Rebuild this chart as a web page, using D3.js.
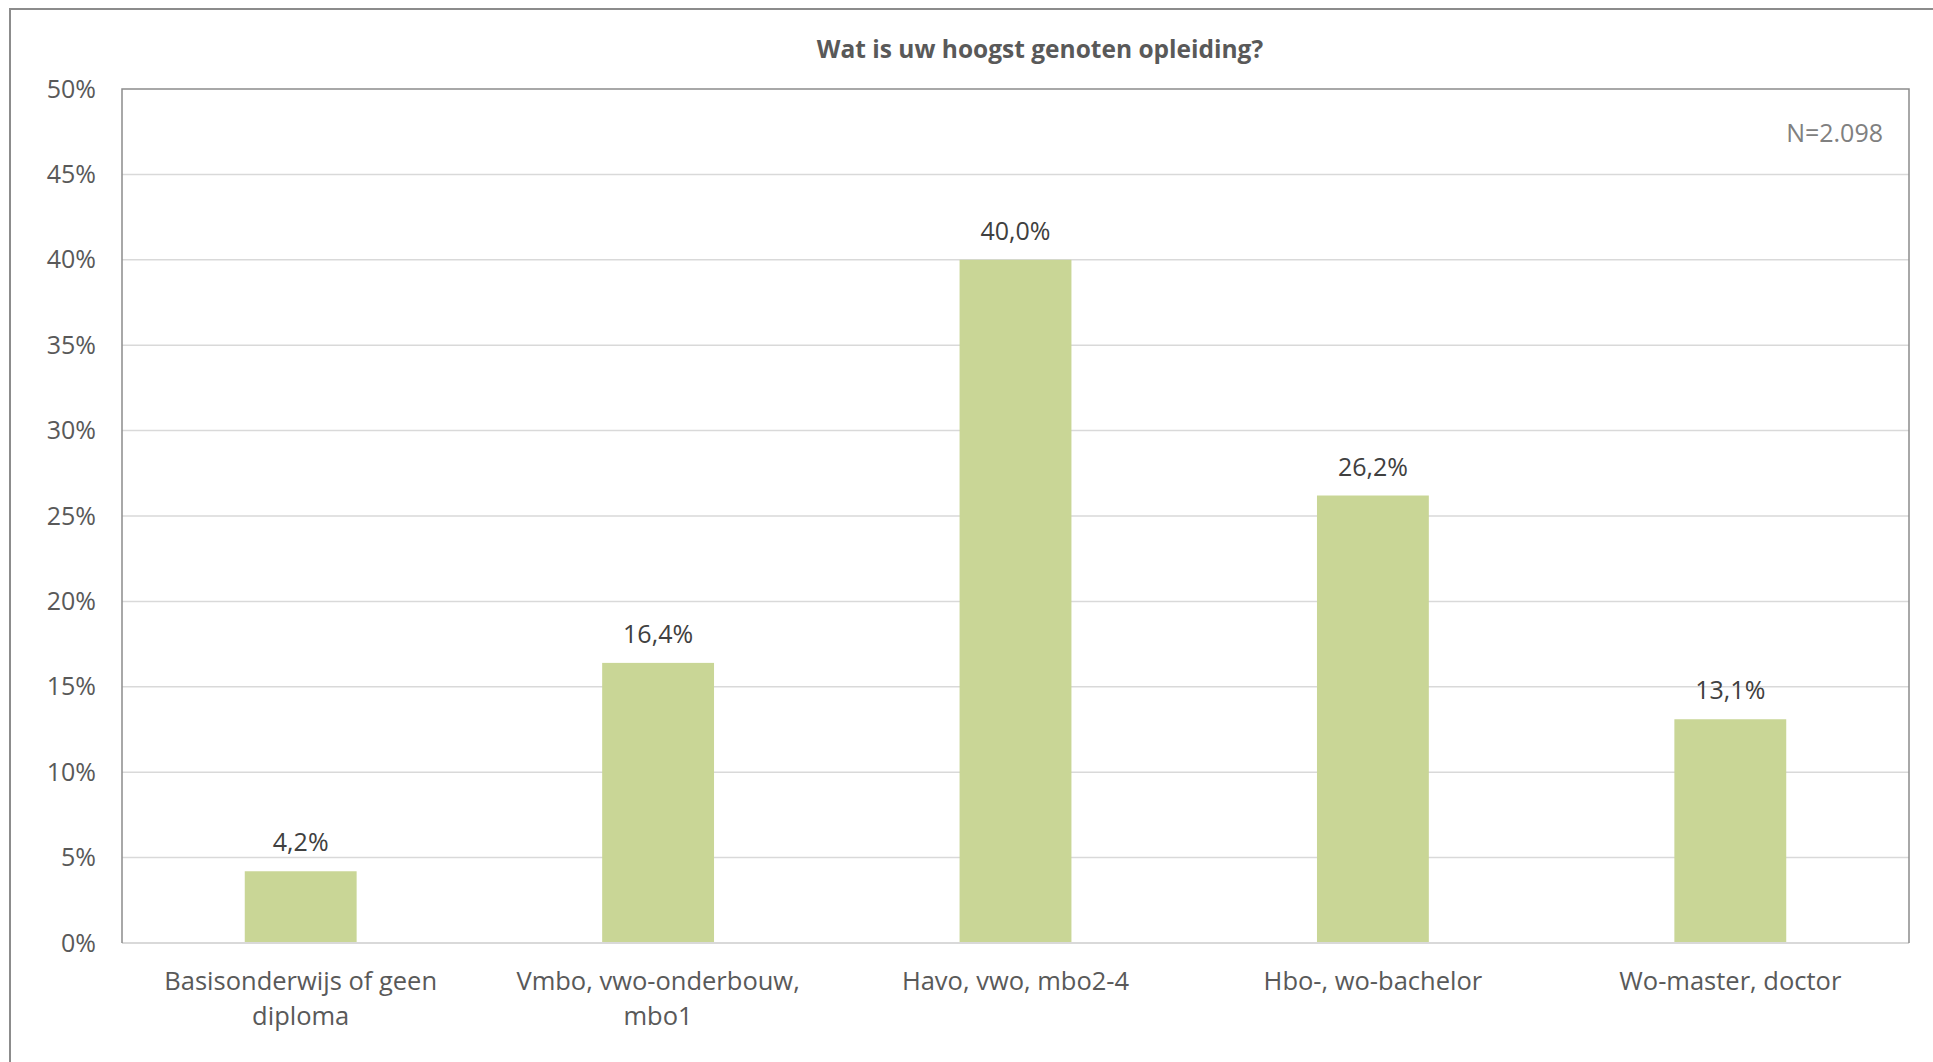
<!DOCTYPE html>
<html>
<head>
<meta charset="utf-8">
<script src="https://cdn.jsdelivr.net/npm/d3@7"></script>
<style>
  html, body { margin: 0; padding: 0; background: #fff; }
  svg { display: block; }
  text { font-family: "Open Sans", "Noto Sans", sans-serif; }
</style>
</head>
<body>
<svg id="chart" width="1933" height="1062"></svg>
<script>
const categories = [
  ["Basisonderwijs of geen", "diploma"],
  ["Vmbo, vwo-onderbouw,", "mbo1"],
  ["Havo, vwo, mbo2-4"],
  ["Hbo-, wo-bachelor"],
  ["Wo-master, doctor"]
];
const values = [4.2, 16.4, 40.0, 26.2, 13.1];
const yTicks = [0, 5, 10, 15, 20, 25, 30, 35, 40, 45, 50];
const title = "Wat is uw hoogst genoten opleiding?";
const note = "N=2.098";

const svg = d3.select("#chart");
const W = 1933, H = 1062;
const plot = { left: 122, top: 89, right: 1909, bottom: 943 };

// outer frame (extends beyond the right and bottom edges)
svg.append("rect")
  .attr("x", 10).attr("y", 9)
  .attr("width", W + 20).attr("height", H + 20)
  .attr("fill", "#fff").attr("stroke", "#8c8c8c").attr("stroke-width", 2);

const x = d3.scaleBand()
  .domain(d3.range(categories.length))
  .range([plot.left, plot.right])
  .paddingInner(0.687)
  .paddingOuter(0.3435);

const y = d3.scaleLinear().domain([0, 50]).range([plot.bottom, plot.top]);

// gridlines
svg.append("g")
  .selectAll("line")
  .data(yTicks.filter(t => t > 0 && t < 50))
  .join("line")
  .attr("x1", plot.left).attr("x2", plot.right)
  .attr("y1", d => y(d)).attr("y2", d => y(d))
  .attr("stroke", "#d9d9d9").attr("stroke-width", 1.5);

// bars
svg.append("g")
  .selectAll("rect")
  .data(values)
  .join("rect")
  .attr("x", (d, i) => x(i))
  .attr("width", x.bandwidth())
  .attr("y", d => y(d))
  .attr("height", d => y(0) - y(d))
  .attr("fill", "#c9d696");

// bottom axis line (light)
svg.append("line")
  .attr("x1", plot.left).attr("x2", plot.right)
  .attr("y1", y(0)).attr("y2", y(0))
  .attr("stroke", "#d9d9d9").attr("stroke-width", 2);

// plot area border (top, left, right)
svg.append("path")
  .attr("d", `M${plot.left},${plot.bottom}V${plot.top}H${plot.right}V${plot.bottom}`)
  .attr("fill", "none").attr("stroke", "#8c8c8c").attr("stroke-width", 1.5);

// y axis labels
const yAxis = d3.axisLeft(y)
  .tickValues(yTicks)
  .tickFormat(d => d + "%")
  .tickSize(0)
  .tickPadding(26);
const ya = svg.append("g").attr("transform", `translate(${plot.left},0)`).call(yAxis);
ya.select(".domain").remove();
ya.selectAll("text")
  .attr("font-size", 25)
  .attr("fill", "#595959")
  .attr("font-family", "'Open Sans', sans-serif");

// x axis labels
const xg = svg.append("g");
categories.forEach((lines, i) => {
  const t = xg.append("text")
    .attr("x", x(i) + x.bandwidth() / 2)
    .attr("y", 990)
    .attr("text-anchor", "middle")
    .attr("font-size", 25.5)
    .attr("fill", "#595959");
  lines.forEach((ln, j) => {
    t.append("tspan")
      .attr("x", x(i) + x.bandwidth() / 2)
      .attr("dy", j === 0 ? 0 : 35)
      .text(ln);
  });
});

// data labels
svg.append("g")
  .selectAll("text")
  .data(values)
  .join("text")
  .attr("x", (d, i) => x(i) + x.bandwidth() / 2)
  .attr("y", d => y(d) - 20)
  .attr("text-anchor", "middle")
  .attr("font-size", 25)
  .attr("fill", "#404040")
  .text(d => d.toFixed(1).replace(".", ",") + "%");

// title
svg.append("text")
  .attr("x", 1040).attr("y", 58)
  .attr("text-anchor", "middle")
  .attr("font-size", 24.5)
  .attr("font-weight", "bold")
  .attr("fill", "#595959")
  .text(title);

// N note
svg.append("text")
  .attr("x", 1883).attr("y", 142)
  .attr("text-anchor", "end")
  .attr("font-size", 25)
  .attr("fill", "#808080")
  .text(note);
</script>
</body>
</html>
